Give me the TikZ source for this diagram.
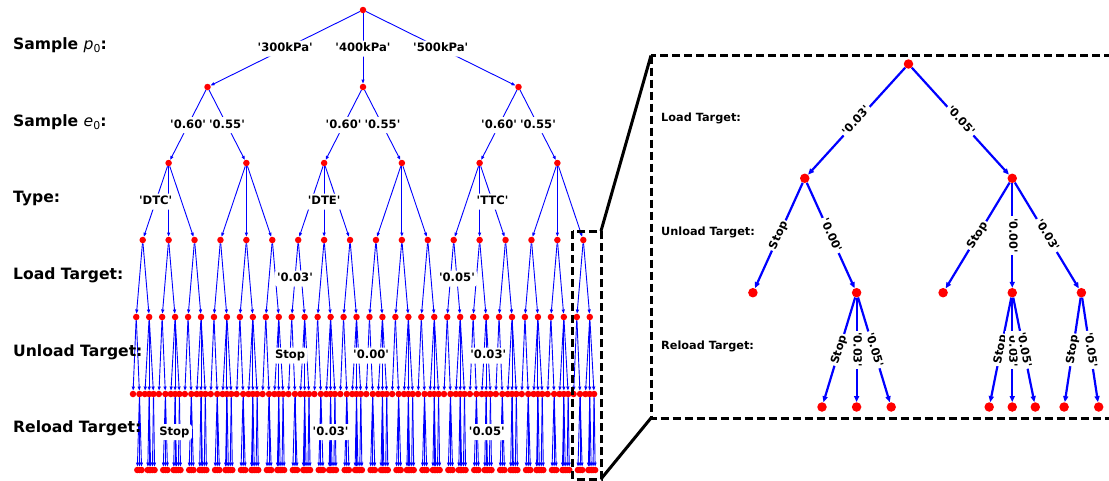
\documentclass[tikz,border=0pt]{standalone}
\usepackage{fontspec}
\setmainfont{DejaVu Sans}[Ligatures=TeXOff]
\usetikzlibrary{arrows.meta}
\pgfdeclarelayer{bg}
\pgfsetlayers{bg,main}
\tikzset{
  ldot/.style={circle, fill=red, inner sep=0pt, minimum size=6.5pt},
  idot/.style={circle, fill=red, inner sep=0pt, minimum size=9.5pt},
  ledge/.style={draw=blue, line width=0.9pt, -{Triangle[length=4pt,width=3pt]}},
  iedge/.style={draw=blue, line width=2.2pt, -{Triangle[length=6pt,width=5pt]}},
  llab/.style={fill=white, rounded corners=3pt, inner sep=2.5pt, text height=8.6pt, text depth=2.4pt,
    font=\bfseries\fontsize{11.6}{13}\selectfont},
  ilab/.style={fill=white, inner sep=1.8pt, text height=8.2pt, text depth=2.2pt,
    font=\bfseries\fontsize{11.3}{12}\selectfont},
  lvl/.style={anchor=base west, font=\bfseries\fontsize{15.6}{17}\selectfont, inner sep=0pt},
  ilvl/.style={anchor=base west, font=\bfseries\fontsize{11.3}{12}\selectfont, inner sep=0pt},
  zoombox/.style={draw=black, line width=3pt, dash pattern=on 8pt off 4pt},
  zoomline/.style={draw=black, line width=3pt},
}
\newcommand{\mathsub}[2]{{\mdseries\itshape #1}\raisebox{-0.22em}{\mdseries\fontsize{10.9}{11}\selectfont #2}}
\def\pass{1}
\newcommand\doNode[4]{%
  \ifnum\pass=1 \node[ldot] (#1) at (#2,#3) {};\else \draw[ledge] (#4) -- (#1);\fi}
\newcommand\buildtree{%
\foreach \i in {0,1,2}{%
 \pgfmathsetmacro\xp{363+(\i-1)*155.5}%
 \doNode{P\i}{\xp}{87}{root}%
 \foreach \j in {0,1}{%
  \pgfmathsetmacro\xe{\xp+(\j-0.5)*77.75}%
  \doNode{E\i\j}{\xe}{163}{P\i}%
  \foreach \k in {0,1,2}{%
   \pgfmathsetmacro\xt{\xe+(\k-1)*25.9167}%
   \doNode{T\i\j\k}{\xt}{240}{E\i\j}%
   \foreach \l in {0,1}{%
    \pgfmathsetmacro\xl{\xt+(\l-0.5)*12.9583}%
    \doNode{L\i\j\k\l}{\xl}{317}{T\i\j\k}%
    \ifnum\l=0 \def\mlist{0,1}\else\def\mlist{0,1,2}\fi
    \foreach \m in \mlist{%
     \pgfmathsetmacro\xu{\l==0 ? \xl+(\m-0.5)*6.4792 : \xl+(\m-1)*4.3194}%
     \doNode{U\i\j\k\l\m}{\xu}{394}{L\i\j\k\l}%
     \pgfmathtruncatemacro\code{10*\l+\m}%
     \def\hasq{0}%
     \ifnum\code=1 \def\nlist{0,1,2}\def\nsp{2.1597}\def\noff{1}\def\hasq{1}\fi
     \ifnum\code=11 \def\nlist{0,1,2}\def\nsp{1.4398}\def\noff{1}\def\hasq{1}\fi
     \ifnum\code=12 \def\nlist{0,1}\def\nsp{2.1597}\def\noff{0.5}\def\hasq{1}\fi
     \ifnum\hasq=1
      \foreach \n in \nlist{%
       \pgfmathsetmacro\xq{\xu+(\n-\noff)*\nsp}%
       \doNode{Q\i\j\k\l\m\n}{\xq}{470}{U\i\j\k\l\m}%
      }%
     \fi
    }%
   }%
  }%
 }%
}}
\begin{document}
\begin{tikzpicture}[x=1pt,y=-1pt]
\useasboundingbox (0,0) rectangle (1109,480);
\clip (0,0) rectangle (1109,480);

% ---------------- left tree ----------------
\node[ldot] (root) at (363,10) {};
\def\pass{1}\buildtree
\begin{pgfonlayer}{bg}
\fill[white] (0,0) rectangle (1109,480);
\def\pass{2}\buildtree
\end{pgfonlayer}

% left edge labels
\path (root) -- node[llab] {'300kPa'} (P0);
\path (root) -- node[llab] {'400kPa'} (P1);
\path (root) -- node[llab] {'500kPa'} (P2);
\foreach \i in {0,1,2}{
  \path (P\i) -- node[llab] {'0.60'} (E\i0);
  \path (P\i) -- node[llab] {'0.55'} (E\i1);
}
\path (E00) -- node[llab] {'DTC'} (T000);
\path (E10) -- node[llab] {'DTE'} (T101);
\path (E20) -- node[llab] {'TTC'} (T202);
\path (T100) -- node[llab] {'0.03'} (L1000);
\path (T200) -- node[llab] {'0.05'} (L2001);
\path (L1000) -- node[llab] {Stop} (U10000);
\path (L1100) -- node[llab] {'0.00'} (U11001);
\path (L2011) -- node[llab] {'0.03'} (U20112);
\path (U00111) -- node[llab] {Stop} (Q001110);
\path (U10111) -- node[llab] {'0.03'} (Q101111);
\path (U20111) -- node[llab] {'0.05'} (Q201112);

% left level labels
\node[lvl] (lv1) at (13,49.3) {Sample \mathsub{p}{0}:};
\node[lvl] (lv2) at (13,126) {Sample \mathsub{e}{0}:};
\node[lvl] (lv3) at (13,202.7) {Type:};
\node[lvl] (lv4) at (13,279.3) {Load Target:};
\node[lvl] (lv5) at (13,356) {Unload Target:};
\node[lvl] (lv6) at (13,432.7) {Reload Target:};

% ---------------- zoom frames ----------------
\coordinate (sNW) at (572.7,231);
\coordinate (sNE) at (601,231);
\coordinate (sSE) at (601,479);
\coordinate (bNW) at (651,55.5);
\coordinate (bSW) at (651,418);
\coordinate (bSE) at (1125,418);
\draw[zoombox] (sNW) rectangle (sSE);
\draw[zoombox] (bNW) rectangle (bSE);
\draw[zoomline] (sNE) -- (bNW);
\draw[zoomline] (sSE) -- (bSW);

% ---------------- inset tree ----------------
\node[idot] (IR) at (908.5,64) {};
\node[idot] (IL0) at (804.75,178.3) {};
\node[idot] (IL1) at (1012.25,178.3) {};
\node[idot] (IU00) at (752.9,292.7) {};
\node[idot] (IU01) at (856.6,292.7) {};
\node[idot] (IU10) at (943.1,292.7) {};
\node[idot] (IU11) at (1012.25,292.7) {};
\node[idot] (IU12) at (1081.4,292.7) {};
\node[idot] (IQ010) at (822.0,407) {};
\node[idot] (IQ011) at (856.6,407) {};
\node[idot] (IQ012) at (891.2,407) {};
\node[idot] (IQ110) at (989.2,407) {};
\node[idot] (IQ111) at (1012.25,407) {};
\node[idot] (IQ112) at (1035.3,407) {};
\node[idot] (IQ120) at (1064.1,407) {};
\node[idot] (IQ121) at (1098.7,407) {};
\begin{pgfonlayer}{bg}
\draw[iedge] (IR) -- (IL0);
\draw[iedge] (IR) -- (IL1);
\draw[iedge] (IL0) -- (IU00);
\draw[iedge] (IL0) -- (IU01);
\draw[iedge] (IL1) -- (IU10);
\draw[iedge] (IL1) -- (IU11);
\draw[iedge] (IL1) -- (IU12);
\draw[iedge] (IU01) -- (IQ010);
\draw[iedge] (IU01) -- (IQ011);
\draw[iedge] (IU01) -- (IQ012);
\draw[iedge] (IU11) -- (IQ110);
\draw[iedge] (IU11) -- (IQ111);
\draw[iedge] (IU11) -- (IQ112);
\draw[iedge] (IU12) -- (IQ120);
\draw[iedge] (IU12) -- (IQ121);
\end{pgfonlayer}
\path (IR) -- node[ilab, sloped] {'0.03'} (IL0);
\path (IR) -- node[ilab, sloped] {'0.05'} (IL1);
\path (IL0) -- node[ilab, sloped] {Stop} (IU00);
\path (IL0) -- node[ilab, sloped] {'0.00'} (IU01);
\path (IL1) -- node[ilab, sloped] {Stop} (IU10);
\path (IL1) -- node[ilab, rotate=-90] {'0.00'} (IU11);
\path (IL1) -- node[ilab, sloped] {'0.03'} (IU12);
\path (IU01) -- node[ilab, sloped] {Stop} (IQ010);
\path (IU01) -- node[ilab, rotate=-90] {'0.03'} (IQ011);
\path (IU01) -- node[ilab, sloped] {'0.05'} (IQ012);
\path (IU11) -- node[ilab, sloped] {Stop} (IQ110);
\path (IU11) -- node[ilab, rotate=-90] {'0.03'} (IQ111);
\path (IU11) -- node[ilab, sloped] {'0.05'} (IQ112);
\path (IU12) -- node[ilab, sloped] {Stop} (IQ120);
\path (IU12) -- node[ilab, sloped] {'0.05'} (IQ121);

\node[ilvl] (ilv1) at (661,121) {Load Target:};
\node[ilvl] (ilv2) at (661,235.3) {Unload Target:};
\node[ilvl] (ilv3) at (661,349.6) {Reload Target:};
\end{tikzpicture}
\end{document}
